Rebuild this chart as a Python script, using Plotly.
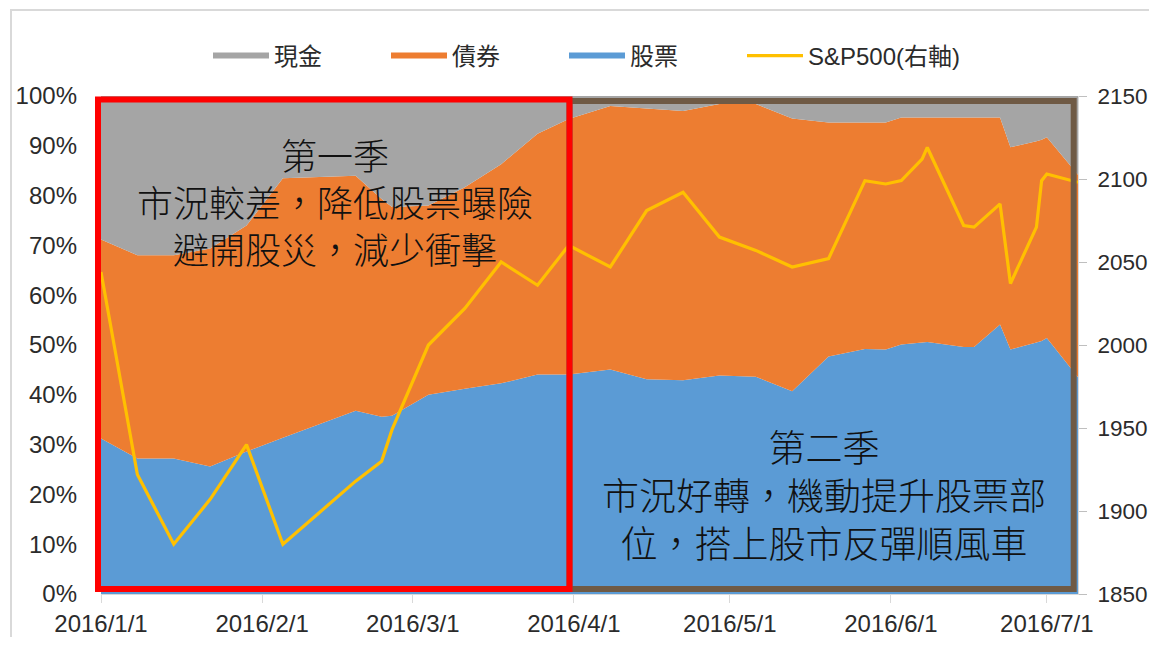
import plotly.graph_objects as go

# ---------------- data ----------------
dates = [
    "2016-01-01", "2016-01-08", "2016-01-15", "2016-01-22", "2016-01-29",
    "2016-02-05", "2016-02-19", "2016-02-24", "2016-02-26", "2016-03-04",
    "2016-03-11", "2016-03-18", "2016-03-25", "2016-03-31", "2016-04-08",
    "2016-04-15", "2016-04-22", "2016-04-29", "2016-05-06", "2016-05-13",
    "2016-05-20", "2016-05-27", "2016-05-31", "2016-06-03", "2016-06-07",
    "2016-06-08", "2016-06-15", "2016-06-17", "2016-06-22", "2016-06-24",
    "2016-06-29", "2016-06-30", "2016-07-01", "2016-07-07",
]

# allocation (%)
stocks = [31.2, 27.2, 27.2, 25.6, 28.6, 31.4, 36.8, 35.6, 35.8, 40.0,
          41.2, 42.3, 44.1, 44.1, 45.1, 43.1, 42.9, 43.9, 43.6, 40.7,
          47.7, 49.2, 49.1, 50.1, 50.5, 50.6, 49.6, 49.6, 54.1, 49.1,
          50.5, 50.8, 51.4, 43.5]
bonds = [40.0, 40.8, 40.8, 43.8, 45.4, 52.1, 47.2, 43.7, 41.9, 38.0,
         40.5, 44.0, 48.3, 51.3, 52.9, 54.4, 54.1, 54.5, 54.8, 54.8,
         47.0, 45.5, 45.6, 45.6, 45.2, 45.1, 46.1, 46.1, 41.6, 40.6,
         40.4, 40.4, 40.3, 40.7]
cash = [28.8, 32.0, 32.0, 30.6, 26.0, 16.5, 16.0, 20.7, 22.3, 22.0,
        18.3, 13.7, 7.6, 4.6, 2.0, 2.5, 3.0, 1.6, 1.6, 4.5,
        5.3, 5.3, 5.3, 4.3, 4.3, 4.3, 4.3, 4.3, 4.3, 10.3,
        9.1, 8.8, 8.3, 15.8]

# S&P 500 (right axis)
sp500 = [2044, 1922, 1880, 1907, 1940, 1880, 1918, 1930, 1949, 2000,
         2022, 2050, 2036, 2060, 2047, 2081, 2092, 2065, 2057, 2047,
         2052, 2099, 2097, 2099, 2112, 2119, 2072, 2071, 2085, 2037,
         2071, 2099, 2103, 2098]

series_names = ["現金", "債券", "股票", "S&P500(右軸)"]

x_tick_vals = ["2016-01-01", "2016-02-01", "2016-03-01", "2016-04-01",
               "2016-05-01", "2016-06-01", "2016-07-01"]
x_tick_text = ["2016/1/1", "2016/2/1", "2016/3/1", "2016/4/1",
               "2016/5/1", "2016/6/1", "2016/7/1"]

note_q1 = ["第一季", "市況較差，降低股票曝險", "避開股災，減少衝擊"]
note_q2 = ["第二季", "市況好轉，機動提升股票部", "位，搭上股市反彈順風車"]

# ---------------- styling ----------------
C_CASH = "#A5A5A5"
C_BOND = "#ED7D31"
C_STOCK = "#5B9BD5"
C_SP = "#FFC000"
LATIN = "Liberation Sans, Arial, Noto Sans CJK TC, sans-serif"
NOTE_FONT = "Liberation Sans, Noto Sans CJK TC, Noto Sans CJK JP, sans-serif"
TXT = "#2b2b2b"

fig = go.Figure()
fig.add_trace(go.Scatter(x=dates, y=stocks, name=series_names[2], stackgroup="alloc",
                         mode="none", fillcolor=C_STOCK, legendrank=3))
fig.add_trace(go.Scatter(x=dates, y=bonds, name=series_names[1], stackgroup="alloc",
                         mode="none", fillcolor=C_BOND, legendrank=2))
fig.add_trace(go.Scatter(x=dates, y=cash, name=series_names[0], stackgroup="alloc",
                         mode="none", fillcolor=C_CASH, legendrank=1))
fig.add_trace(go.Scatter(x=dates, y=sp500, name=series_names[3], yaxis="y2",
                         mode="lines", line=dict(color=C_SP, width=3.2), legendrank=4,
                         legendwidth=180))

# page offset (body margin 8px on each side) and plot area, in screen pixels
OFF = 8
W, H = 1157 - 2 * OFF, 645 - 2 * OFF
L, R, T, B = 101, 1078, 96, 594
PW, PH = R - L, B - T


def px(xs):
    return (xs - L) / PW


def py(ys):
    return (B - ys) / PH


shapes = [
    # outer chart frame
    dict(type="rect", xref="paper", yref="paper", x0=px(11), x1=px(1175),
         y0=py(660), y1=py(10), line=dict(color="#D9D9D9", width=2), layer="below"),
    # Q2 box (brown)
    dict(type="rect", xref="paper", yref="paper", x0=px(569.5), x1=px(1073.7),
         y0=py(589), y1=py(101), line=dict(color="#6F5A45", width=6), layer="above"),
    # Q1 box (red)
    dict(type="rect", xref="paper", yref="paper", x0=px(98), x1=px(569.5),
         y0=py(589), y1=py(99.5), line=dict(color="#FF0000", width=6), layer="above"),
]

annotations = [
    dict(text="<br>".join(note_q1), xref="paper", yref="paper", x=px(335), y=py(205),
         xanchor="center", yanchor="middle", showarrow=False, align="center",
         font=dict(family=NOTE_FONT, size=36, color="#111111", weight=300)),
    dict(text="<br>".join(note_q2), xref="paper", yref="paper", x=px(824), y=py(497),
         xanchor="center", yanchor="middle", showarrow=False, align="center",
         font=dict(family=NOTE_FONT, size=37, color="#111111", weight=300)),
]

fig.update_layout(
    width=W, height=H,
    margin=dict(l=L - OFF, r=W - (R - OFF), t=T - OFF, b=H - (B - OFF), pad=0,
                autoexpand=False),
    paper_bgcolor="white", plot_bgcolor="white",
    showlegend=True,
    legend=dict(orientation="h", x=px(208), xanchor="left", y=py(56), yanchor="middle",
                font=dict(family=LATIN, size=24, color=TXT), itemwidth=56,
                entrywidth=107, entrywidthmode="pixels",
                traceorder="normal", bgcolor="rgba(0,0,0,0)"),
    xaxis=dict(type="date", range=[dates[0], dates[-1]], tickvals=x_tick_vals,
               ticktext=x_tick_text, ticks="outside", ticklen=8, tickcolor="#D9D9D9",
               showline=True, linecolor="#D9D9D9", linewidth=1, showgrid=False,
               zeroline=False, automargin=False,
               tickfont=dict(family=LATIN, size=24, color=TXT)),
    yaxis=dict(range=[0, 100], dtick=10, ticksuffix="%", showgrid=False, zeroline=False,
               showline=False, ticks="", ticklabelstandoff=23, automargin=False,
               tickfont=dict(family=LATIN, size=24, color=TXT)),
    yaxis2=dict(range=[1850, 2150], dtick=50, overlaying="y", side="right",
                showgrid=False, zeroline=False, showline=True, linecolor="#D9D9D9",
                ticks="outside", ticklen=8, tickcolor="#BFBFBF", ticklabelstandoff=6,
                automargin=False, tickfont=dict(family=LATIN, size=22.5, color=TXT)),
    shapes=shapes,
    annotations=annotations,
)

fig.write_html("out.html")
